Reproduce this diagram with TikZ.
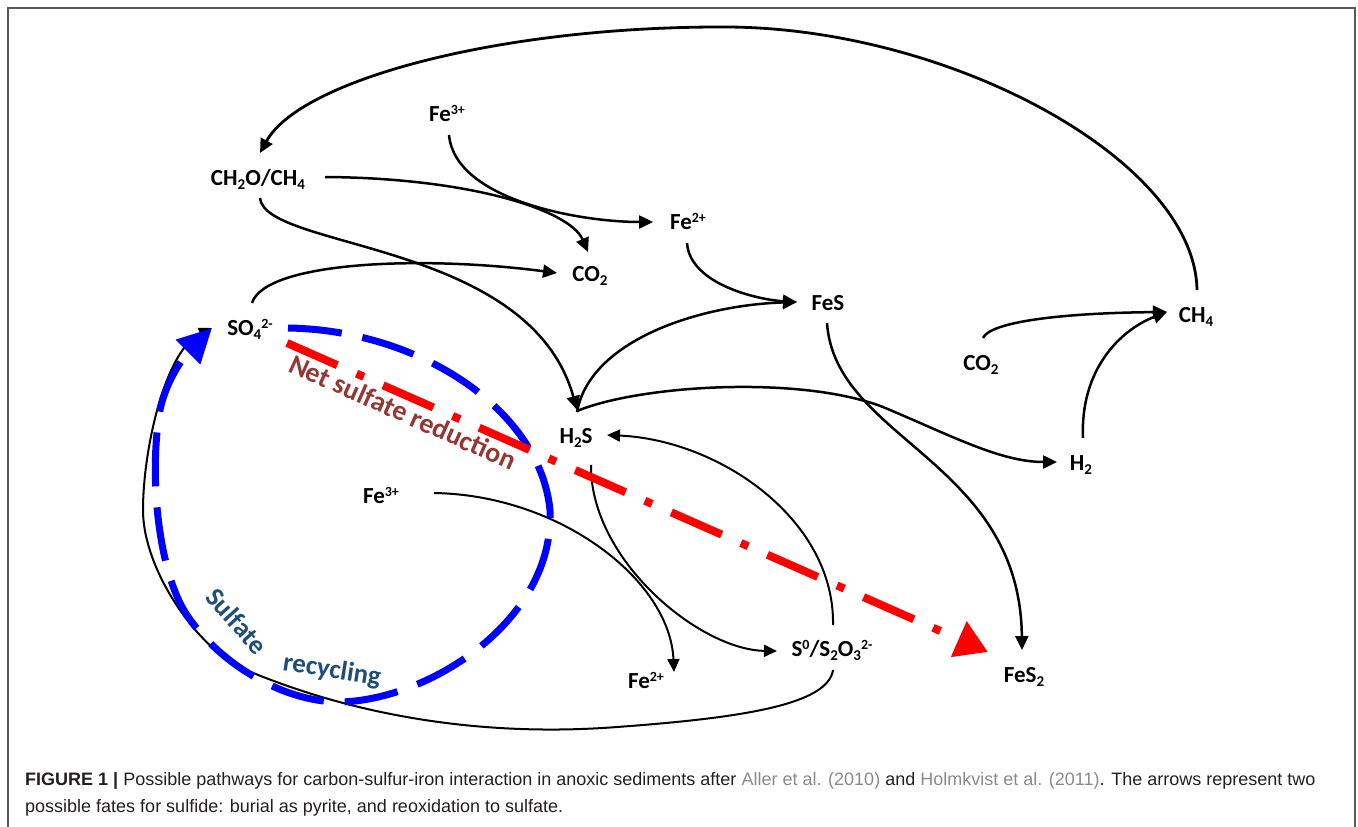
\documentclass[tikz,border=0pt]{standalone}
\usepackage{fontspec}
\setmainfont{Carlito}
\newfontfamily\capfont{Liberation Sans}
\usetikzlibrary{arrows.meta}
\definecolor{recblue}{HTML}{1F4E79}
\definecolor{netbrown}{HTML}{953735}
\definecolor{capgray}{HTML}{231F20}
\definecolor{linkgray}{HTML}{8A8A8A}
\definecolor{framegray}{HTML}{5A5A5A}
\newcommand\sbs[1]{\raisebox{-0.18em}{\fontsize{15}{15}\selectfont #1}}
\newcommand\sps[1]{\raisebox{0.3em}{\fontsize{14}{14}\selectfont #1}}
\begin{document}
\begin{tikzpicture}[x=1pt,y=-1pt,
  chem/.style={font=\fontsize{23}{27}\selectfont\bfseries, anchor=base, inner sep=0pt},
  rx/.style={line width=2.5pt, -{Triangle[length=14pt,width=13pt]}},
  rxthin/.style={line width=2pt, -{Triangle[length=13pt,width=12pt]}},
  bluepath/.style={draw=blue, line width=7pt, dash pattern=on 54pt off 21pt, -{Triangle[length=34pt,width=33pt]}},
  redpath/.style={draw=red, line width=8pt, dash pattern=on 55pt off 21pt on 8pt off 21pt, -{Triangle[length=32pt,width=37pt]}},
  recyc/.style={font=\fontsize{27}{30}\selectfont\bfseries, text=recblue, inner sep=0pt},
  captext/.style={anchor=base west, inner sep=0pt, text=capgray, font=\capfont\fontsize{18}{21}\selectfont}
]
\useasboundingbox (0,0) rectangle (1358,827);
\draw[framegray, line width=1.5pt] (8,830) -- (8,8) -- (1355,8) -- (1355,830);

% species
\node[chem] (fe3a) at (447,121) {Fe\sps{3+}};
\node[chem] (ch2o) at (258,185) {CH\sbs{2}O/CH\sbs{4}};
\node[chem] (co2a) at (590,281) {CO\sbs{2}};
\node[chem] (fe2a) at (688,229) {Fe\sps{2+}};
\node[chem] (fes) at (828,310) {FeS};
\node[chem] (co2b) at (981,370) {CO\sbs{2}};
\node[chem] (ch4) at (1196,322) {CH\sbs{4}};
\node[chem] (h2) at (1081,470) {H\sbs{2}};
\node[chem] (h2s) at (576,443) {H\sbs{2}S};
\node[chem] (so4) at (250,335) {SO\sbs{4}\sps{2-}};
\node[chem] (fe3b) at (381,503) {Fe\sps{3+}};
\node[chem] (fe2b) at (646,688) {Fe\sps{2+}};
\node[chem] (s0) at (832,656) {S\sps{0}/S\sbs{2}O\sbs{3}\sps{2-}};
\node[chem] (fes2) at (1024,682) {FeS\sbs{2}};

% reactions
\draw[rx, line width=2.8pt] ([shift={(1,-32)}]ch4.base) .. controls (1195,160) and (950,28) .. (727,27) .. controls (500,26) and (300,80) .. ([shift={(2,-32)}]ch2o.base);
\draw[rx] ([shift={(2,14)}]fe3a.base) .. controls (455,200) and (580,222) .. ([shift={(-35,-7)}]fe2a.base);
\draw[rx] ([shift={(67,-8)}]ch2o.base) .. controls (470,178) and (570,210) .. ([shift={(-2,-29)}]co2a.base);
\draw[rx] ([shift={(2,13)}]ch2o.base) .. controls (265,250) and (530,240) .. ([shift={(1,-33)}]h2s.base);
\draw[rx] ([shift={(2,-32)}]so4.base) .. controls (265,262) and (420,255) .. ([shift={(-33,-8)}]co2a.base);
\draw[rx] ([shift={(-1,14)}]fe2a.base) .. controls (690,285) and (760,300) .. ([shift={(-31,-8)}]fes.base);
\draw[rx] ([shift={(1,-31)}]h2s.base) .. controls (590,340) and (700,305) .. ([shift={(-31,-8)}]fes.base);
\draw[rx] ([shift={(1,-32)}]h2s.base) .. controls (640,385) and (800,375) .. (883,407) .. controls (950,435) and (1000,462) .. ([shift={(-24,-8)}]h2.base);
\draw[rx] ([shift={(-1,13)}]fes.base) .. controls (835,440) and (1020,460) .. ([shift={(-2,-32)}]fes2.base);
\draw[rx] ([shift={(2,-32)}]co2b.base) .. controls (990,322) and (1060,313) .. ([shift={(-29,-10)}]ch4.base);
\draw[rx] ([shift={(2,-32)}]h2.base) .. controls (1080,370) and (1120,330) .. ([shift={(-29,-10)}]ch4.base);
\draw[rxthin] ([shift={(1,-31)}]s0.base) .. controls (835,520) and (720,440) .. ([shift={(31,-8)}]h2s.base);
\draw[rxthin] ([shift={(15,22)}]h2s.base) .. controls (590,560) and (700,650) .. ([shift={(-55,-5)}]s0.base);
\draw[rxthin] ([shift={(53,-10)}]fe3b.base) .. controls (560,495) and (670,580) .. ([shift={(28,-16)}]fe2b.base);
\draw[rxthin] ([shift={(1,14)}]s0.base) .. controls (828,705) and (740,718) .. (617,727) .. controls (500,736) and (370,722) .. (246,670) .. controls (198,650) and (143,570) .. (143,510) .. controls (143,450) and (165,350) .. ([shift={(-38,-7)}]so4.base);

% sulfate recycling loop
\draw[bluepath] ([shift={(38,-7)}]so4.base) .. controls (420,330) and (540,410) .. (550,510) .. controls (555,620) and (430,700) .. (340,702) .. controls (280,702) and (215,660) .. (185,612) .. controls (160,572) and (148,480) .. (160,410) .. controls (166,380) and (185,355) .. ([shift={(-38,-7)}]so4.base);

% net sulfate reduction
\draw[redpath] ([shift={(37,8)}]so4.base) -- ([shift={(-36,-30)}]fes2.base);

\node[font=\fontsize{28}{30}\selectfont\bfseries, text=netbrown, rotate=-24, inner sep=0pt] (nsr) at (403,412) {Net sulfate reduction};
\node[recyc, rotate=-48] (sulf) at (237,621) {Sulfate};
\node[recyc, rotate=-9] (recy) at (332,671) {recycling};

% caption
\node[captext] (cap1) at (25,785) {\textbf{FIGURE 1 |} Possible pathways for carbon-sulfur-iron interaction in anoxic sediments after \textcolor{linkgray}{Aller et al. (2010)} and \textcolor{linkgray}{Holmkvist et al. (2011)}. The arrows represent two};
\node[captext] (cap2) at (25,812) {possible fates for sulfide: burial as pyrite, and reoxidation to sulfate.};
\end{tikzpicture}
\end{document}
